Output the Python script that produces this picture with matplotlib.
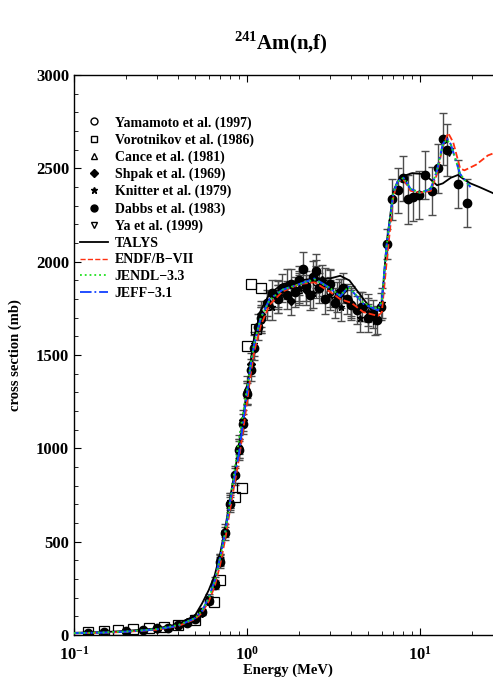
import numpy as np
import matplotlib
matplotlib.use("Agg")
import matplotlib.pyplot as plt
from matplotlib.lines import Line2D
from matplotlib.legend_handler import HandlerLine2D
from matplotlib.ticker import MultipleLocator

plt.rcParams['font.family'] = ['Liberation Serif', 'DejaVu Serif']
plt.rcParams['font.weight'] = 'bold'
plt.rcParams['mathtext.fontset'] = 'custom'
plt.rcParams['mathtext.rm'] = 'Liberation Serif:bold'
plt.rcParams['mathtext.bf'] = 'Liberation Serif:bold'

# evaluations (E in MeV, sigma in mb)
talys_e = [0.1, 0.15, 0.2, 0.3, 0.4, 0.5, 0.55, 0.6, 0.65, 0.7, 0.75, 0.8, 0.85, 0.9, 0.95,
           1.0, 1.05, 1.1, 1.2, 1.35, 1.6, 2.0, 2.45, 3.0, 3.45, 3.9, 4.7, 5.5, 6.0, 6.4,
           7.0, 7.5, 8.0, 9.0, 10.5, 11.5, 12.5, 13.5, 15.0, 16.5, 18.0, 19.5, 22.0, 26.0, 30.0]
talys_s = [12, 16, 22, 35, 58, 105, 170, 240, 320, 440, 580, 740, 880, 1010, 1170,
           1320, 1470, 1600, 1740, 1830, 1880, 1900, 1910, 1910, 1925, 1900, 1800, 1720, 1780, 2100,
           2380, 2440, 2460, 2475, 2470, 2440, 2410, 2420, 2450, 2465, 2440, 2420, 2400, 2370, 2340]

endf_e = [0.1, 0.15, 0.2, 0.3, 0.4, 0.5, 0.55, 0.6, 0.65, 0.7, 0.75, 0.8, 0.85, 0.9, 0.95,
          1.0, 1.05, 1.1, 1.2, 1.35, 1.6, 2.0, 2.45, 3.0, 3.45, 4.0, 4.7, 5.7, 6.0, 6.4,
          7.0, 7.4, 8.0, 8.8, 10.0, 11.5, 12.5, 13.5, 14.5, 15.5, 17.0, 18.0, 21.0, 24.6, 30.0]
endf_s = [9, 12, 17, 28, 48, 85, 120, 180, 260, 380, 520, 680, 820, 950, 1100,
          1250, 1400, 1520, 1660, 1770, 1840, 1880, 1890, 1840, 1800, 1780, 1730, 1710, 1730, 2000,
          2350, 2430, 2440, 2380, 2370, 2380, 2470, 2620, 2690, 2640, 2500, 2490, 2520, 2570, 2600]

jendl_e = [0.1, 0.15, 0.2, 0.3, 0.4, 0.5, 0.55, 0.6, 0.65, 0.7, 0.75, 0.8, 0.85, 0.9, 0.95,
           1.0, 1.05, 1.1, 1.2, 1.35, 1.6, 2.0, 2.45, 3.0, 3.45, 3.85, 4.7, 5.7, 6.0, 6.4,
           7.0, 7.4, 8.0, 8.8, 10.0, 11.5, 12.5, 13.5, 14.2, 15.0, 17.0, 19.5]
jendl_s = [10, 14, 19, 32, 54, 90, 132, 195, 285, 415, 555, 725, 895, 1055, 1195,
           1325, 1455, 1565, 1700, 1795, 1850, 1880, 1905, 1860, 1820, 1865, 1780, 1745, 1785, 2090,
           2370, 2430, 2450, 2390, 2370, 2390, 2490, 2625, 2655, 2630, 2470, 2400]

jeff_e = [0.1, 0.15, 0.2, 0.3, 0.4, 0.5, 0.55, 0.6, 0.65, 0.7, 0.75, 0.8, 0.85, 0.9, 0.95,
          1.0, 1.05, 1.1, 1.2, 1.35, 1.6, 2.0, 2.45, 3.0, 3.45, 3.85, 4.7, 5.7, 6.0, 6.4,
          7.0, 7.4, 8.0, 8.8, 10.0, 11.5, 12.5, 13.5, 14.2, 15.0, 17.0, 19.5]
jeff_s = [10, 13, 18, 30, 50, 90, 130, 200, 290, 420, 560, 720, 860, 980, 1150,
          1300, 1450, 1560, 1700, 1800, 1850, 1880, 1910, 1860, 1815, 1865, 1775, 1740, 1790, 2090,
          2370, 2430, 2450, 2390, 2370, 2390, 2490, 2630, 2660, 2630, 2470, 2400]

# experiments
yam_e = [0.2, 0.3, 0.4, 0.5, 0.6, 0.7, 0.8, 0.9, 1.0, 1.2, 1.5, 2.0, 2.5, 3.0]
yam_s = [20, 32, 50, 92, 195, 410, 710, 1000, 1300, 1690, 1830, 1870, 1890, 1840]
yam_err = [6, 6, 8, 10, 15, 25, 40, 50, 60, 70, 75, 80, 85, 80]

vor_e = [0.12, 0.15, 0.18, 0.22, 0.27, 0.33, 0.4, 0.5, 0.64, 0.7, 0.85, 0.93, 1.0, 1.05, 1.12, 1.2]
vor_s = [15, 20, 28, 32, 40, 45, 55, 80, 177, 295, 740, 790, 1550, 1880, 1640, 1860]

can_e = [0.5, 0.6, 0.7, 0.8, 0.9, 1.0, 1.3, 1.5, 2.0, 2.5, 3.0, 3.5, 4.0, 5.0]
can_s = [95, 200, 400, 720, 1020, 1330, 1760, 1800, 1850, 1920, 1870, 1830, 1790, 1750]
can_err = [12, 18, 30, 40, 50, 60, 70, 75, 80, 90, 85, 80, 80, 75]

shp_e = [0.45, 0.55, 0.65, 0.75, 0.85, 0.95, 1.05, 1.2, 1.5, 1.8, 2.2, 2.7, 3.3, 4.5]
shp_s = [70, 120, 285, 560, 850, 1150, 1450, 1720, 1820, 1790, 1850, 1900, 1810, 1760]
shp_err = [10, 15, 25, 35, 45, 55, 60, 70, 75, 75, 80, 85, 80, 80]

kni_e = [0.6, 0.7, 0.8, 0.9, 1.0, 1.1, 1.2, 1.4, 1.7, 2.0, 2.4, 2.8, 3.0, 3.5, 4.0, 4.5, 5.0, 5.5, 6.0]
kni_s = [190, 405, 720, 1000, 1300, 1560, 1690, 1760, 1880, 1860, 1830, 1880, 1820, 1760, 1780,
         1700, 1730, 1680, 1780]
kni_err = [18, 30, 40, 50, 60, 65, 70, 70, 80, 80, 80, 85, 80, 75, 80, 75, 75, 75, 80]

dab_e = [0.12, 0.15, 0.2, 0.25, 0.3, 0.35, 0.4, 0.45, 0.5, 0.55, 0.6, 0.65, 0.7, 0.75, 0.8,
         0.85, 0.9, 0.95, 1.0, 1.05, 1.1, 1.15, 1.2,
         1.3, 1.4, 1.5, 1.6, 1.7, 1.8, 1.9, 2.0, 2.1, 2.2, 2.3, 2.4, 2.5, 2.6, 2.8, 3.0,
         3.2, 3.4, 3.6, 3.8, 4.0, 4.3, 4.6, 5.0, 5.3, 5.6, 5.9,
         6.44, 6.9, 7.46, 7.97, 8.5, 9.1, 9.8, 10.7, 11.7, 12.6, 13.5, 14.3, 16.6, 18.6]
dab_s = [12, 15, 22, 28, 35, 40, 52, 65, 88, 125, 185, 270, 390, 545, 700,
         860, 990, 1130, 1290, 1420, 1540, 1650, 1700,
         1780, 1830, 1800, 1860, 1820, 1880, 1840, 1900, 1960, 1870, 1820, 1920, 1950, 1860, 1800, 1880,
         1780, 1830, 1860, 1800, 1770, 1740, 1760, 1700, 1720, 1690, 1760,
         2094, 2335, 2384, 2448, 2335, 2346, 2357, 2464, 2378, 2501, 2657, 2598, 2416, 2314]
dab_err = [5, 5, 6, 6, 7, 8, 8, 10, 12, 15, 20, 25, 30, 35, 40,
           45, 50, 55, 60, 60, 65, 70, 70,
           70, 75, 75, 75, 75, 80, 80, 80, 90, 80, 80, 85, 90, 80, 80, 80,
           80, 80, 80, 80, 80, 75, 80, 75, 75, 75, 70,
           80, 110, 120, 120, 130, 130, 130, 130, 130, 130, 140, 140, 130, 130]

ya_e = [14.6]
ya_s = [2587]


class RightMarker(HandlerLine2D):
    def get_xdata(self, legend, xdescent, ydescent, width, height, fontsize):
        xdata, xmark = super().get_xdata(legend, xdescent, ydescent, width, height, fontsize)
        return xdata, np.array([-xdescent + 0.92 * width])


fig = plt.figure(figsize=(4.93, 6.77), dpi=100)
ax = fig.add_axes([0.150, 0.062, 0.870, 0.827])

eb = dict(ecolor='0.3', elinewidth=1, capsize=3, zorder=2)
ax.errorbar(dab_e, dab_s, yerr=dab_err, fmt='o', color='k', ms=6, **eb)
ax.errorbar(kni_e, kni_s, yerr=kni_err, fmt='*', color='k', ms=5, **eb)
ax.errorbar(shp_e, shp_s, yerr=shp_err, fmt='D', color='k', ms=4, **eb)
ax.errorbar(can_e, can_s, yerr=can_err, fmt='^', mfc='none', mec='k', ms=5, mew=0.9, **eb)
ax.errorbar(yam_e, yam_s, yerr=yam_err, fmt='o', mfc='none', mec='k', ms=5, mew=0.9, **eb)
ax.plot(vor_e, vor_s, 's', mfc='none', mec='k', ms=7, mew=0.9, zorder=2)
ax.plot(ya_e, ya_s, 'v', mfc='white', mec='k', ms=6, mew=0.9, zorder=2)

ax.plot(talys_e, talys_s, '-', color='k', lw=1.3, zorder=3)
ax.plot(endf_e, endf_s, '--', color='#ff3010', lw=1.3, zorder=4)
ax.plot(jeff_e, jeff_s, '-.', color='#1040ff', lw=1.5, zorder=5)
ax.plot(jendl_e, jendl_s, ':', color='#20e020', lw=1.3, zorder=6)

ax.set_xscale('log')
ax.set_xlim(0.1, 30)
ax.set_ylim(0, 3000)
ax.yaxis.set_major_locator(MultipleLocator(500))
ax.yaxis.set_minor_locator(MultipleLocator(100))
ax.tick_params(which='both', direction='in', top=True, right=True, labelsize=12)
ax.tick_params(which='major', length=5)
ax.tick_params(which='minor', length=3)
ax.tick_params(axis='x', which='major', pad=7.5)
for sp in ax.spines.values():
    sp.set_linewidth(1.0)

ax.set_xlabel("Energy (MeV)", fontsize=10.5, fontweight='bold')
ax.xaxis.set_label_coords(0.5, -0.05)
ax.set_ylabel("cross section (mb)", fontsize=10.5, fontweight='bold', labelpad=10)
fig.text(0.57, 0.937, r"$^{241}$Am(n,f)", ha='center', va='center', fontsize=15, fontweight='bold')

handles = [
    Line2D([], [], ls='none', marker='o', mfc='none', mec='k', ms=5),
    Line2D([], [], ls='none', marker='s', mfc='none', mec='k', ms=5),
    Line2D([], [], ls='none', marker='^', mfc='none', mec='k', ms=5),
    Line2D([], [], ls='none', marker='D', color='k', ms=4),
    Line2D([], [], ls='none', marker='*', color='k', ms=5),
    Line2D([], [], ls='none', marker='o', color='k', ms=5),
    Line2D([], [], ls='none', marker='v', mfc='none', mec='k', ms=5),
    Line2D([], [], ls='-', color='k', lw=1.3),
    Line2D([], [], ls='--', color='#ff3010', lw=1.0),
    Line2D([], [], ls=':', color='#20e020', lw=1.3),
    Line2D([], [], ls='-.', color='#1040ff', lw=1.3),
]
labels = ["Yamamoto et al. (1997)", "Vorotnikov et al. (1986)", "Cance et al. (1981)",
          "Shpak et al. (1969)", "Knitter et al. (1979)", "Dabbs et al. (1983)",
          "Ya et al. (1999)", "TALYS", "ENDF/B\u2212VII", "JENDL\u22123.3", "JEFF\u22123.1"]
hmap = {h: RightMarker(numpoints=1) for h in handles[:7]}
ax.legend(handles, labels, loc='upper left', bbox_to_anchor=(0.014, 0.927), borderaxespad=0,
          borderpad=0, frameon=False, fontsize=10, handlelength=2.0, handletextpad=0.5,
          labelspacing=0.27, handler_map=hmap)

fig.savefig("out.png", dpi=100)
